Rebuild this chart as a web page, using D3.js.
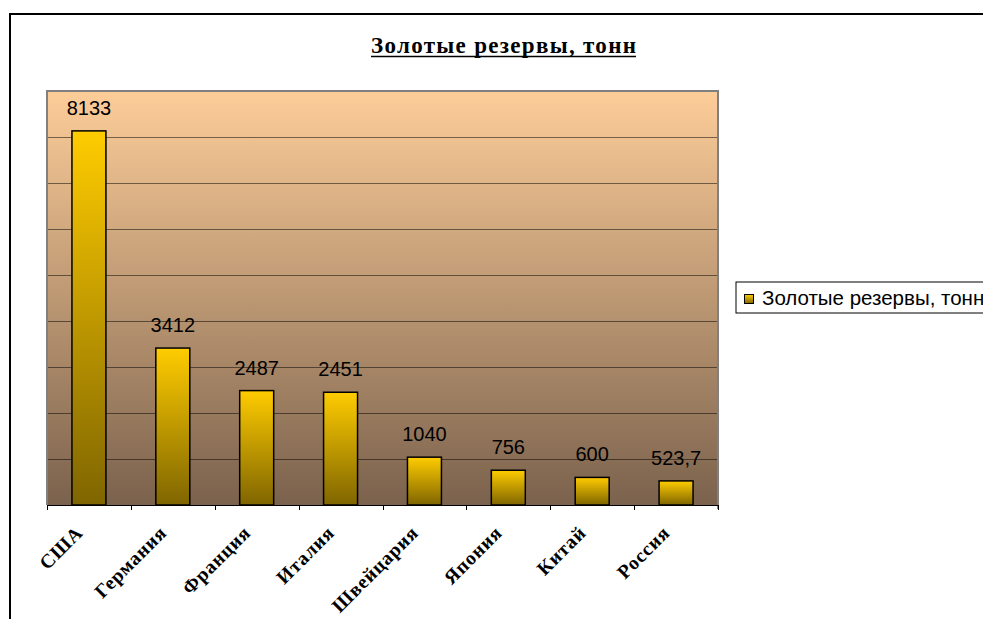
<!DOCTYPE html>
<html>
<head>
<meta charset="utf-8">
<script src="https://cdn.jsdelivr.net/npm/d3@7"></script>
<style>
  html, body { margin: 0; padding: 0; background: #ffffff; }
  svg { display: block; }
</style>
</head>
<body>
<svg id="chart" width="983" height="619"></svg>
<script>
// ---- data ----
const title = "Золотые резервы, тонн";
const seriesName = "Золотые резервы, тонн";
const categories = ["США", "Германия", "Франция", "Италия", "Швейцария", "Япония", "Китай", "Россия"];
const values = [8133, 3412, 2487, 2451, 1040, 756, 600, 523.7];
const valueLabels = ["8133", "3412", "2487", "2451", "1040", "756", "600", "523,7"];
const yTicks = [0, 1000, 2000, 3000, 4000, 5000, 6000, 7000, 8000, 9000];

// ---- layout ----
const svg = d3.select("#chart");
const plot = { left: 47, right: 718, top: 91, bottom: 505 };

const defs = svg.append("defs");
const bg = defs.append("linearGradient").attr("id", "bgGrad")
  .attr("x1", 0).attr("y1", 0).attr("x2", 0).attr("y2", 1);
bg.append("stop").attr("offset", "0%").attr("stop-color", "#fdcd99");
bg.append("stop").attr("offset", "100%").attr("stop-color", "#7b624d");

const barGrad = defs.append("linearGradient").attr("id", "barGrad")
  .attr("x1", 0).attr("y1", 0).attr("x2", 0).attr("y2", 1);
barGrad.append("stop").attr("offset", "0%").attr("stop-color", "#ffcc00");
barGrad.append("stop").attr("offset", "100%").attr("stop-color", "#7f6500");

// outer chart border (right/bottom lie outside the window)
svg.append("rect").attr("x", 10).attr("y", 14).attr("width", 1000).attr("height", 700)
  .attr("fill", "none").attr("stroke", "#000").attr("stroke-width", 2);

// title
svg.append("text")
  .attr("x", 371).attr("y", 53)
  .attr("font-family", "'Liberation Serif', 'Times New Roman', serif")
  .attr("font-weight", "bold")
  .attr("font-size", 23)
  .attr("textLength", 265)
  .attr("lengthAdjust", "spacing")
  .text(title);
svg.append("line").attr("x1", 371).attr("x2", 636)
  .attr("y1", 56.5).attr("y2", 56.5).attr("stroke", "#000").attr("stroke-width", 1.6);

// scales
const x = d3.scaleBand().domain(categories).range([plot.left, plot.right])
  .paddingInner(0.595).paddingOuter(0.2975);
const y = d3.scaleLinear().domain([0, 9000]).range([plot.bottom, plot.top]);

// plot background
svg.append("rect").attr("x", plot.left).attr("y", plot.top)
  .attr("width", plot.right - plot.left).attr("height", plot.bottom - plot.top)
  .attr("fill", "url(#bgGrad)");

// gridlines
svg.append("g").selectAll("line").data(yTicks.slice(1, -1)).join("line")
  .attr("x1", plot.left).attr("x2", plot.right)
  .attr("y1", d => Math.round(y(d)) + 0.5).attr("y2", d => Math.round(y(d)) + 0.5)
  .attr("stroke", "#000").attr("stroke-opacity", 0.5).attr("stroke-width", 1);

// plot border (gray) left/top/right
svg.append("path")
  .attr("d", `M${plot.left},${plot.bottom} L${plot.left},${plot.top} L${plot.right},${plot.top} L${plot.right},${plot.bottom + 4}`)
  .attr("fill", "none").attr("stroke", "#808080").attr("stroke-width", 2);

// bars
svg.append("g").selectAll("rect").data(values).join("rect")
  .attr("x", (d, i) => x(categories[i]))
  .attr("y", d => y(d))
  .attr("width", x.bandwidth())
  .attr("height", d => y(0) - y(d))
  .attr("fill", "url(#barGrad)")
  .attr("stroke", "#000").attr("stroke-width", 1.5);

// value labels
svg.append("g").selectAll("text").data(values).join("text")
  .attr("x", (d, i) => x(categories[i]) + x.bandwidth() / 2)
  .attr("y", d => y(d) - 16)
  .attr("text-anchor", "middle")
  .attr("font-family", "'Liberation Sans', Arial, sans-serif")
  .attr("font-size", 20)
  .attr("fill", "#000")
  .text((d, i) => valueLabels[i]);

// category axis
const step = x.step();
const boundaries = d3.range(categories.length + 1).map(i => plot.left + i * step);
svg.append("line").attr("x1", plot.left).attr("x2", plot.right)
  .attr("y1", plot.bottom + 0.5).attr("y2", plot.bottom + 0.5)
  .attr("stroke", "#000").attr("stroke-width", 1);
svg.append("g").selectAll("line").data(boundaries).join("line")
  .attr("x1", d => Math.round(d) + 0.5).attr("x2", d => Math.round(d) + 0.5)
  .attr("y1", plot.bottom).attr("y2", plot.bottom + 5)
  .attr("stroke", "#000").attr("stroke-width", 1);

svg.append("g").selectAll("text").data(categories).join("text")
  .attr("transform", d => `translate(${x(d) + x.bandwidth() / 2 - 5},${plot.bottom + 29}) rotate(-45)`)
  .attr("text-anchor", "end")
  .attr("font-family", "'Liberation Serif', 'Times New Roman', serif")
  .attr("font-weight", "bold")
  .attr("font-size", 19.5)
  .attr("letter-spacing", 0.8)
  .attr("fill", "#000")
  .text(d => d);

// legend
const lg = svg.append("g");
lg.append("rect").attr("x", 736).attr("y", 282).attr("width", 300).attr("height", 31)
  .attr("fill", "#fff").attr("stroke", "#000").attr("stroke-width", 1);
lg.append("rect").attr("x", 744.5).attr("y", 294.5).attr("width", 9).attr("height", 9)
  .attr("fill", "url(#barGrad)").attr("stroke", "#000").attr("stroke-width", 1);
lg.append("text").attr("x", 762).attr("y", 305)
  .attr("font-family", "'Liberation Sans', Arial, sans-serif")
  .attr("font-size", 20.5).attr("fill", "#000")
  .text(seriesName);
</script>
</body>
</html>
